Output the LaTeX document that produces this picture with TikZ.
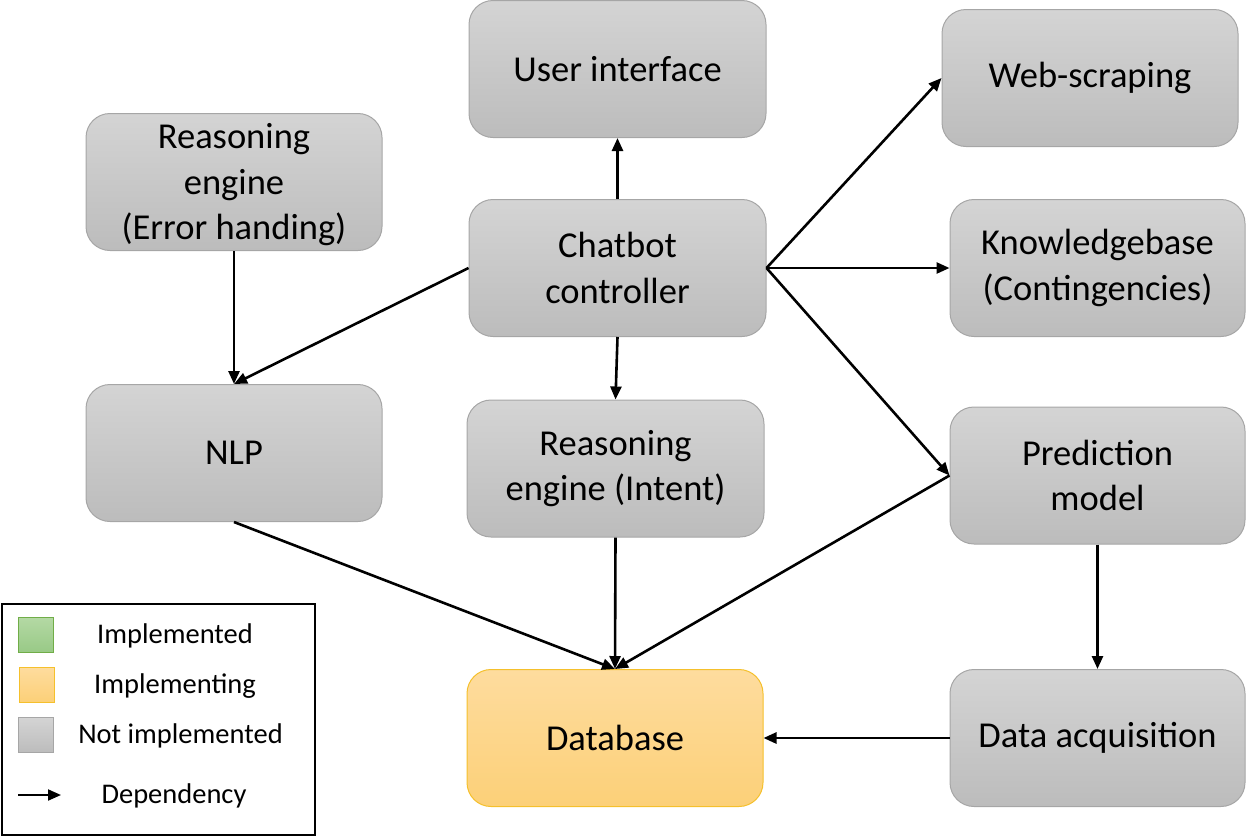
\documentclass[tikz,border=0pt]{standalone}
\usepackage{fontspec}
\setmainfont{Carlito}
\usetikzlibrary{arrows.meta}
\definecolor{gtop}{HTML}{D4D4D4}
\definecolor{gbot}{HTML}{BCBCBC}
\definecolor{gbord}{HTML}{A6A6A6}
\definecolor{otop}{HTML}{FEDC9E}
\definecolor{obot}{HTML}{FCD078}
\definecolor{obord}{HTML}{F5C02C}
\definecolor{ntop}{HTML}{B4D9A4}
\definecolor{nbot}{HTML}{98C986}
\definecolor{nbord}{HTML}{70AD47}
\tikzset{
  box/.style={draw=gbord, line width=1pt, rounded corners=24pt, top color=gtop, bottom color=gbot,
    align=center, inner sep=0pt, font=\fontsize{36.5}{45.5}\selectfont,
    minimum width=#1, minimum height=137pt},
  box/.default=296pt,
  dbbox/.style={box, draw=obord, top color=otop, bottom color=obot},
  dep/.style={line width=2.6pt, -{Triangle[length=13pt,width=11pt]}},
  legtext/.style={font=\fontsize{28.5}{34}\selectfont, inner sep=0pt},
  legsq/.style={line width=1pt, inner sep=0pt, minimum width=35pt, minimum height=35pt},
}
\begin{document}
\begin{tikzpicture}[x=1pt,y=-1pt]
\useasboundingbox (0,0) rectangle (1246,836);
% boxes
\node[box=297pt] (ui) at (617.5,69) {User interface};
\node[box, text depth=1pt] (reh) at (234,182) {Reasoning\\engine\\(Error handing)};
\node[box] (web) at (1090,78) {Web-scraping};
\node[box=297pt] (chat) at (617.5,268) {Chatbot\\controller};
\node[box=295pt] (kb) at (1097.5,268) {Knowledgebase\\(Contingencies)};
\node[box] (nlp) at (234,453) {NLP};
\node[box=297pt] (rei) at (615.5,468.5) {Reasoning\\engine (Intent)};
\node[box=295pt] (pred) at (1097.5,475.5) {Prediction\\model};
\node[dbbox] (db) at (615,738) {Database};
\node[box=295pt] (daq) at (1097.5,738) {Data acquisition};
% connectors
\draw[dep] (chat.north) -- (ui.south);
\draw[dep] (reh.south) -- (nlp.north);
\draw[dep] (chat.west) -- (nlp.north);
\draw[dep] (chat.south) -- (rei.north);
\draw[dep] (chat.east) -- (web.west);
\draw[dep] (chat.east) -- (kb.west);
\draw[dep] (chat.east) -- (pred.west);
\draw[dep] (pred.west) -- (db.north);
\draw[dep] (rei.south) -- (db.north);
\draw[dep] (nlp.south) -- (db.north);
\draw[dep] (pred.south) -- (daq.north);
\draw[dep] (daq.west) -- (db.east);
% legend
\node[draw=black, line width=2pt, minimum width=313pt, minimum height=231pt, inner sep=0pt] (leg) at (158,719) {};
\node[legsq, draw=nbord, top color=ntop, bottom color=nbot] (lg) at (35.5,635) {};
\node[legsq, draw=obord, top color=otop, bottom color=obot] (lo) at (37,684.5) {};
\node[legsq, draw=gbord, top color=gtop, bottom color=gbot] (lx) at (35.5,735) {};
\coordinate (la1) at (18,795);
\coordinate (la2) at (61,795);
\draw[line width=2pt, -{Triangle[length=13pt,width=11pt]}] (la1) -- (la2);
\node[legtext] (t1) at (175,636) {Implemented};
\node[legtext] (t2) at (175,686) {Implementing};
\node[legtext] (t3) at (180.5,736) {Not implemented};
\node[legtext] (t4) at (174,796) {Dependency};
\end{tikzpicture}
\end{document}
